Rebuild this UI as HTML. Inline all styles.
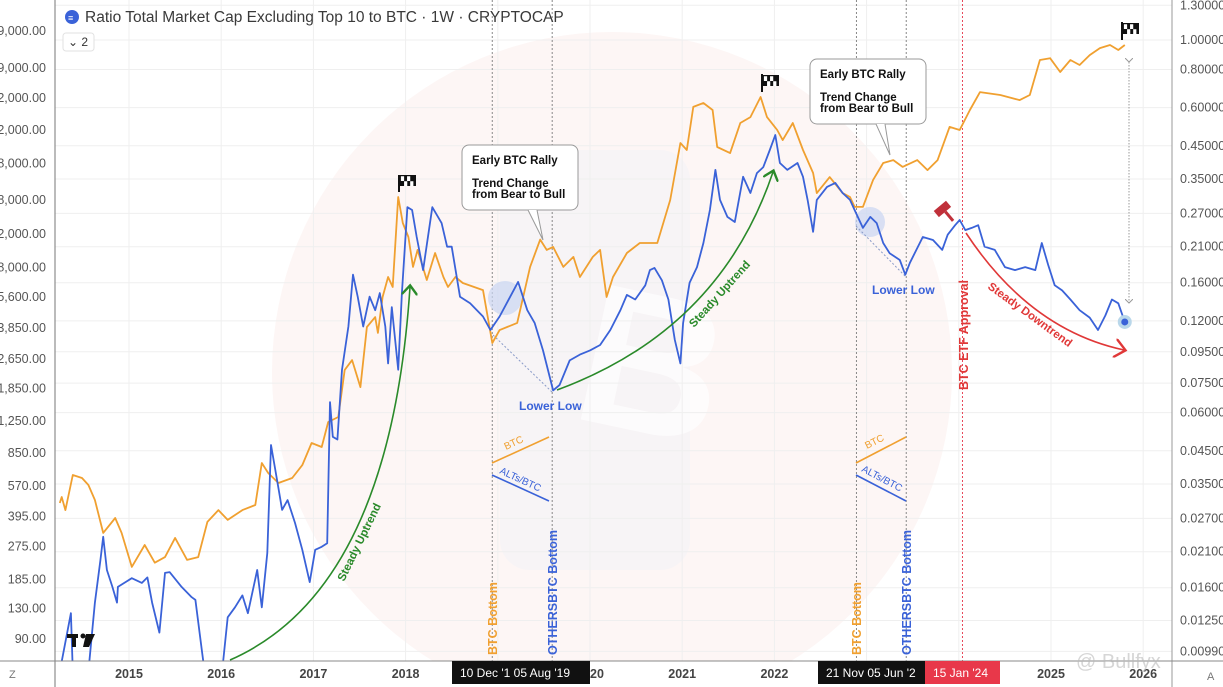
<!DOCTYPE html>
<html><head><meta charset="utf-8"><style>
html,body{margin:0;padding:0;background:#fff;width:1223px;height:687px;overflow:hidden;font-family:"Liberation Sans",sans-serif}
svg{display:block}
</style></head><body>
<svg id="chart" width="1223" height="687" viewBox="0 0 1223 687" xmlns="http://www.w3.org/2000/svg">
<defs><clipPath id="plotClip"><rect x="55" y="0" width="1117" height="661"/></clipPath></defs>
<rect x="0" y="0" width="1223" height="687" fill="#fff"/>
<g>
<circle cx="612" cy="372" r="340" fill="#fdf6f5"/>
<rect x="500" y="150" width="190" height="420" rx="30" fill="#f4f4f6" opacity="0.6"/>
<text x="580" y="420" font-size="200" font-weight="bold" fill="#ffffff" opacity="0.7" transform="rotate(12 590 360)">B</text>
</g>
<g id="grid"></g>
<g id="annoBack" clip-path="url(#plotClip)"></g>
<g id="series" clip-path="url(#plotClip)"></g>
<g id="anno"></g>
<g id="axes"></g>
</svg>
<script>
// ---- data ----
const yearTicks=[2015,2016,2017,2018,2019,2020,2021,2022,2023,2024,2025,2026];
const leftTickValues=[139000,89000,62000,42000,28000,18000,12000,8000,5600,3850,2650,1850,1250,850,570,395,275,185,130,90];
const rightTickValues=[1.3,1.0,0.8,0.6,0.45,0.35,0.27,0.21,0.16,0.12,0.095,0.075,0.06,0.045,0.035,0.027,0.021,0.016,0.0125,0.0099];
const btcDates=[2014.25,2014.27,2014.31,2014.39,2014.49,2014.56,2014.63,2014.72,2014.85,2014.92,2015.03,2015.17,2015.28,2015.39,2015.50,2015.63,2015.75,2015.85,2015.97,2016.07,2016.23,2016.37,2016.44,2016.51,2016.62,2016.77,2016.88,2016.98,2017.09,2017.16,2017.27,2017.34,2017.42,2017.51,2017.58,2017.67,2017.70,2017.75,2017.81,2017.86,2017.92,2017.97,2018.03,2018.08,2018.13,2018.23,2018.32,2018.41,2018.46,2018.54,2018.62,2018.84,2018.94,2019.02,2019.21,2019.35,2019.46,2019.53,2019.60,2019.71,2019.82,2019.89,2020.03,2020.11,2020.18,2020.25,2020.40,2020.54,2020.73,2020.87,2020.98,2021.05,2021.12,2021.23,2021.33,2021.38,2021.52,2021.63,2021.74,2021.85,2021.92,2022.03,2022.09,2022.20,2022.31,2022.42,2022.46,2022.60,2022.74,2022.82,2022.87,2022.96,2023.07,2023.18,2023.29,2023.39,2023.55,2023.66,2023.77,2023.90,2024.01,2024.12,2024.23,2024.45,2024.66,2024.77,2024.88,2024.99,2025.10,2025.21,2025.31,2025.42,2025.53,2025.64,2025.73,2025.80];
const btcValues=[465,500,427,652,629,578,482,324,388,324,215,280,226,242,305,234,242,370,427,379,427,454,754,668,592,629,735,959,914,1236,1314,2318,2612,1884,3893,4390,3625,5590,7117,6311,18700,13670,11540,8040,9880,6870,9510,7117,6311,7117,6620,6080,3210,3750,4090,8040,11190,9880,10240,8040,9080,7117,9080,9880,5590,7117,9510,10730,10730,18040,35900,33000,55500,58200,53500,34200,31800,45700,49100,62600,49100,42000,37200,45700,33000,25000,19600,23800,19600,18700,16600,16600,23000,28200,29200,26900,29200,25900,29200,43600,42000,53500,66400,64100,60300,64100,97800,100000,84600,97800,92100,103800,113000,117300,110400,117300];
const altDates=[2014.25,2014.37,2014.39,2014.56,2014.63,2014.69,2014.72,2014.76,2014.82,2014.87,2014.88,2015.03,2015.14,2015.20,2015.25,2015.33,2015.39,2015.44,2015.57,2015.68,2015.72,2015.79,2015.82,2016.01,2016.07,2016.15,2016.23,2016.29,2016.39,2016.44,2016.50,2016.54,2016.58,2016.62,2016.66,2016.72,2016.80,2016.88,2016.96,2017.02,2017.09,2017.15,2017.18,2017.21,2017.26,2017.31,2017.38,2017.43,2017.48,2017.54,2017.61,2017.67,2017.72,2017.78,2017.81,2017.85,2017.92,2017.96,2018.02,2018.07,2018.12,2018.19,2018.29,2018.39,2018.45,2018.50,2018.59,2018.70,2018.84,2018.92,2019.02,2019.22,2019.32,2019.40,2019.49,2019.57,2019.60,2019.67,2019.78,2019.89,2020.00,2020.11,2020.22,2020.33,2020.40,2020.49,2020.60,2020.65,2020.70,2020.78,2020.85,2020.92,2020.98,2021.01,2021.08,2021.16,2021.23,2021.30,2021.36,2021.41,2021.49,2021.57,2021.66,2021.74,2021.81,2021.88,2021.95,2022.01,2022.06,2022.14,2022.25,2022.31,2022.36,2022.42,2022.46,2022.57,2022.66,2022.74,2022.82,2022.87,2022.96,2023.04,2023.11,2023.18,2023.25,2023.36,2023.42,2023.47,2023.61,2023.72,2023.82,2023.88,2023.96,2024.01,2024.07,2024.14,2024.21,2024.28,2024.39,2024.50,2024.61,2024.72,2024.83,2024.90,2024.97,2025.04,2025.12,2025.21,2025.31,2025.42,2025.51,2025.59,2025.66,2025.73,2025.80];
const altValues=[0.0085,0.0132,0.0085,0.0085,0.0143,0.0197,0.0235,0.0183,0.0161,0.0143,0.0161,0.0172,0.0166,0.0173,0.0143,0.0114,0.0179,0.0180,0.0161,0.0149,0.0146,0.0100,0.0085,0.0085,0.0128,0.0138,0.0151,0.0132,0.0183,0.0138,0.0208,0.047,0.040,0.034,0.0288,0.031,0.0261,0.0213,0.0167,0.0213,0.0218,0.0224,0.065,0.050,0.049,0.083,0.115,0.170,0.144,0.115,0.144,0.130,0.148,0.115,0.087,0.133,0.083,0.148,0.283,0.277,0.226,0.176,0.283,0.251,0.210,0.210,0.144,0.137,0.124,0.112,0.124,0.161,0.130,0.118,0.096,0.077,0.071,0.074,0.089,0.093,0.096,0.100,0.112,0.130,0.146,0.141,0.157,0.176,0.179,0.163,0.141,0.104,0.087,0.118,0.160,0.180,0.216,0.277,0.375,0.299,0.263,0.253,0.356,0.315,0.366,0.383,0.436,0.488,0.395,0.375,0.395,0.356,0.299,0.235,0.299,0.330,0.340,0.315,0.299,0.277,0.242,0.263,0.251,0.216,0.200,0.190,0.170,0.186,0.226,0.221,0.205,0.230,0.247,0.257,0.238,0.242,0.247,0.210,0.205,0.180,0.176,0.180,0.176,0.216,0.183,0.157,0.151,0.141,0.130,0.123,0.112,0.125,0.141,0.137,0.119];
const eventDates=[2018.94,2019.59,2022.89,2023.43,2024.04];

// ---- scales ----
const X=yr=>129+(yr-2015)*92.2;
const YL=v=>639-190.7*Math.log10(v/90);
const YR=v=>40+305*Math.log10(1/v);
const NS='http://www.w3.org/2000/svg';
function mk(tag,attrs,parent,txt){const e=document.createElementNS(NS,tag);for(const k in attrs)e.setAttribute(k,attrs[k]);if(txt!==undefined)e.textContent=txt;parent.appendChild(e);return e;}
const grid=document.getElementById('grid'),series=document.getElementById('series'),anno=document.getElementById('anno'),axes=document.getElementById('axes'),annoBack=document.getElementById('annoBack');

rightTickValues.forEach(v=>{const l=mk('line',{x1:55,x2:1172,y1:YR(v),y2:YR(v),stroke:'#efefef','stroke-width':1},grid);

});
yearTicks.forEach(y=>{const l=mk('line',{x1:X(y),x2:X(y),y1:0,y2:661,stroke:'#efefef','stroke-width':1},grid);

});

const evColors=['#888','#888','#888','#888','#e8485a'];
eventDates.forEach((d,i)=>{const l=mk('line',{x1:X(d),x2:X(d),y1:0,y2:661,stroke:evColors[i],'stroke-width':1,'stroke-dasharray':'2,2'},annoBack);

});

const c1=mk('circle',{cx:505,cy:298,r:17,fill:'#c9d6f2',opacity:0.7},annoBack);


const c2=mk('circle',{cx:870,cy:222,r:15,fill:'#c9d6f2',opacity:0.7},annoBack);


const d1=mk('line',{x1:493,y1:335,x2:552,y2:392,stroke:'#8a9bc8','stroke-width':1,'stroke-dasharray':'2,2'},annoBack);


const d2=mk('line',{x1:856,y1:226,x2:905,y2:276,stroke:'#8a9bc8','stroke-width':1,'stroke-dasharray':'2,2'},annoBack);



function path(dates,vals,yf){return dates.map((d,i)=>(i?'L':'M')+X(d).toFixed(1)+','+yf(vals[i]).toFixed(1)).join('');}
const btc=mk('path',{d:path(btcDates,btcValues,YL),fill:'none',stroke:'#f0a030','stroke-width':1.8,'stroke-linejoin':'round'},series);


const alt=mk('path',{d:path(altDates,altValues,YR),fill:'none',stroke:'#3a62d8','stroke-width':1.8,'stroke-linejoin':'round'},series);


const lastX=X(altDates[altDates.length-1]),lastY=YR(altValues[altValues.length-1]);
const halo=mk('circle',{cx:lastX,cy:lastY,r:7,fill:'#b9d7ea'},series);


const dot=mk('circle',{cx:lastX,cy:lastY,r:3.5,fill:'#3a62d8'},series);



mk('rect',{x:0,y:661,width:1223,height:26,fill:'#fff'},axes);
mk('line',{x1:55,x2:55,y1:0,y2:687,stroke:'#777','stroke-width':1},axes);
mk('line',{x1:1172,x2:1172,y1:0,y2:687,stroke:'#999','stroke-width':1},axes);
mk('line',{x1:0,x2:1223,y1:661,y2:661,stroke:'#888','stroke-width':1},axes);
function fmt(v){return v.toString().replace(/\B(?=(\d{3})+(?!\d))/g,',')+'.00';}
leftTickValues.forEach(v=>{const t=mk('text',{x:46,y:YL(v)+4,'text-anchor':'end','font-size':12.5,fill:'#555'},axes,fmt(v));

});
rightTickValues.forEach(v=>{const t=mk('text',{x:1180,y:YR(v)+4,'font-size':12.5,fill:'#555'},axes,v.toFixed(5));

});
yearTicks.forEach(y=>{if(y===2019)return;const t=mk('text',{x:X(y),y:678,'text-anchor':'middle','font-size':12.5,'font-weight':'bold',fill:'#444'},axes,y===2020?'20':String(y));
if(y===2020)t.setAttribute('x',X(y)+7);

});
</script>

<svg style="position:absolute;left:0;top:0" width="1223" height="687" viewBox="0 0 1223 687">
<circle cx="72" cy="17" r="7" fill="#3a62d8"/>
<text x="68" y="21" font-size="9" fill="#fff" font-weight="bold">≡</text>
<text x="85" y="22" font-size="15.5" fill="#3a3a3a">Ratio Total Market Cap Excluding Top 10 to BTC · 1W · CRYPTOCAP</text>
<g><rect x="63" y="33" width="31" height="18" rx="3" fill="#fff" stroke="#e2e2e2"/><text x="68" y="46" font-size="12" fill="#333">⌄ 2</text></g>
<g><rect x="67" y="634" width="11" height="4" fill="#111"/><rect x="72" y="634" width="4" height="13" fill="#111"/><circle cx="83" cy="636" r="2.5" fill="#111"/><polygon points="86,634 95,634 89,647 83,647" fill="#111"/></g>
<g>
<rect x="462" y="145" width="116" height="65" rx="7" fill="#fff" stroke="#999"/>
<polyline points="528,210 543,240 537,210" fill="#fff" stroke="#999"/>
<text x="472" y="164" font-size="11.5" font-weight="bold" fill="#111">Early BTC Rally</text>
<text x="472" y="187" font-size="11.5" font-weight="bold" fill="#111">Trend Change</text>
<text x="472" y="198" font-size="11.5" font-weight="bold" fill="#111">from Bear to Bull</text>
</g>
<g>
<rect x="810" y="59" width="116" height="65" rx="7" fill="#fff" stroke="#999"/>
<polyline points="876,124 890,155 885,124" fill="#fff" stroke="#999"/>
<text x="820" y="78" font-size="11.5" font-weight="bold" fill="#111">Early BTC Rally</text>
<text x="820" y="101" font-size="11.5" font-weight="bold" fill="#111">Trend Change</text>
<text x="820" y="112" font-size="11.5" font-weight="bold" fill="#111">from Bear to Bull</text>
</g>
<g><line x1="399" y1="175" x2="399" y2="192" stroke="#111" stroke-width="2"/><rect x="400" y="175" width="16" height="11" fill="#111"/><text x="401" y="184" font-size="8" fill="#fff">▚▚</text></g>
<g><line x1="762" y1="74" x2="762" y2="92" stroke="#111" stroke-width="2"/><rect x="763" y="75" width="16" height="11" fill="#111"/><text x="764" y="84" font-size="8" fill="#fff">▚▚</text></g>
<g><line x1="1122" y1="22" x2="1122" y2="40" stroke="#111" stroke-width="2"/><rect x="1123" y="23" width="16" height="11" fill="#111"/><text x="1124" y="32" font-size="8" fill="#fff">▚▚</text></g>
<defs>
<marker id="ga" markerWidth="10" markerHeight="10" refX="5" refY="5" orient="auto"><path d="M0,0 L6,5 L0,10" fill="none" stroke="#2a8a2a" stroke-width="1.5"/></marker>
<marker id="ra" markerWidth="12" markerHeight="12" refX="6" refY="6" orient="auto"><path d="M0,0 L7,6 L0,12" fill="none" stroke="#e03838" stroke-width="1.5"/></marker>
<marker id="gy" markerWidth="8" markerHeight="8" refX="4" refY="4" orient="auto"><path d="M0,0 L4,4 L0,8" fill="none" stroke="#999" stroke-width="1"/></marker>
</defs>
<path d="M230,660 Q390,590 410,287" fill="none" stroke="#2a8a2a" stroke-width="1.6" marker-end="url(#ga)"/>
<text x="0" y="0" font-size="11.5" font-weight="bold" fill="#2a8a2a" transform="translate(344,582) rotate(-64)">Steady Uptrend</text>
<path d="M557,390 Q720,330 773,172" fill="none" stroke="#2a8a2a" stroke-width="1.6" marker-end="url(#ga)"/>
<text x="0" y="0" font-size="11.5" font-weight="bold" fill="#2a8a2a" transform="translate(694,328) rotate(-48)">Steady Uptrend</text>
<path d="M966,233 Q1030,330 1124,350" fill="none" stroke="#e03838" stroke-width="1.6" marker-end="url(#ra)"/>
<text x="0" y="0" font-size="11.5" font-weight="bold" fill="#e03838" transform="translate(987,288) rotate(36)">Steady Downtrend</text>
<line x1="1129" y1="62" x2="1129" y2="303" stroke="#999" stroke-dasharray="1.5,1.5" marker-start="url(#gy)" marker-end="url(#gy)"/>
<g transform="rotate(-40 945 212)"><rect x="937" y="204" width="16" height="8" fill="#c0303a"/><rect x="944" y="212" width="3" height="12" fill="#c0303a"/></g>
<text x="519" y="410" font-size="12" font-weight="bold" fill="#3a62d8">Lower Low</text>
<text x="872" y="294" font-size="12" font-weight="bold" fill="#3a62d8">Lower Low</text>
<g>
<line x1="492" y1="463" x2="549" y2="437" stroke="#f0a030" stroke-width="1.6"/>
<text x="0" y="0" font-size="10" fill="#f0a030" transform="translate(506,450) rotate(-25)">BTC</text>
<line x1="492" y1="475" x2="549" y2="501" stroke="#3a62d8" stroke-width="1.6"/>
<text x="0" y="0" font-size="10" fill="#3a62d8" transform="translate(499,473) rotate(25)">ALTs/BTC</text>
</g>
<g>
<line x1="856" y1="463" x2="906" y2="437" stroke="#f0a030" stroke-width="1.6"/>
<text x="0" y="0" font-size="10" fill="#f0a030" transform="translate(867,449) rotate(-27)">BTC</text>
<line x1="856" y1="475" x2="906" y2="501" stroke="#3a62d8" stroke-width="1.6"/>
<text x="0" y="0" font-size="10" fill="#3a62d8" transform="translate(861,471) rotate(28)">ALTs/BTC</text>
</g>
<text x="0" y="0" font-size="12.5" font-weight="bold" fill="#f0a030" transform="translate(497,655) rotate(-90)">BTC Bottom</text>
<text x="0" y="0" font-size="12.5" font-weight="bold" fill="#3a62d8" transform="translate(557,655) rotate(-90)">OTHERSBTC Bottom</text>
<text x="0" y="0" font-size="12.5" font-weight="bold" fill="#f0a030" transform="translate(861,655) rotate(-90)">BTC Bottom</text>
<text x="0" y="0" font-size="12.5" font-weight="bold" fill="#3a62d8" transform="translate(911,655) rotate(-90)">OTHERSBTC Bottom</text>
<text x="0" y="0" font-size="12.5" font-weight="bold" fill="#e03838" transform="translate(968,390) rotate(-90)">BTC ETF Approval</text>
<g><rect x="452" y="661" width="138" height="23" fill="#111"/><text x="460" y="677" font-size="12" fill="#fff">10 Dec '1  05 Aug '19</text></g>
<g><rect x="818" y="661" width="107" height="23" fill="#111"/><text x="826" y="677" font-size="12" fill="#fff">21 Nov   05 Jun '2</text></g>
<g><rect x="925" y="661" width="75" height="23" fill="#e8384a"/><text x="933" y="677" font-size="12" fill="#fff">15 Jan '24</text></g>
<text x="9" y="678" font-size="11" fill="#777">Z</text>
<text x="1207" y="680" font-size="11" fill="#777">A</text>
<text x="1076" y="668" font-size="20" fill="#bbb" opacity="0.6">@ Bullfyx</text>
</svg>
</body></html>
